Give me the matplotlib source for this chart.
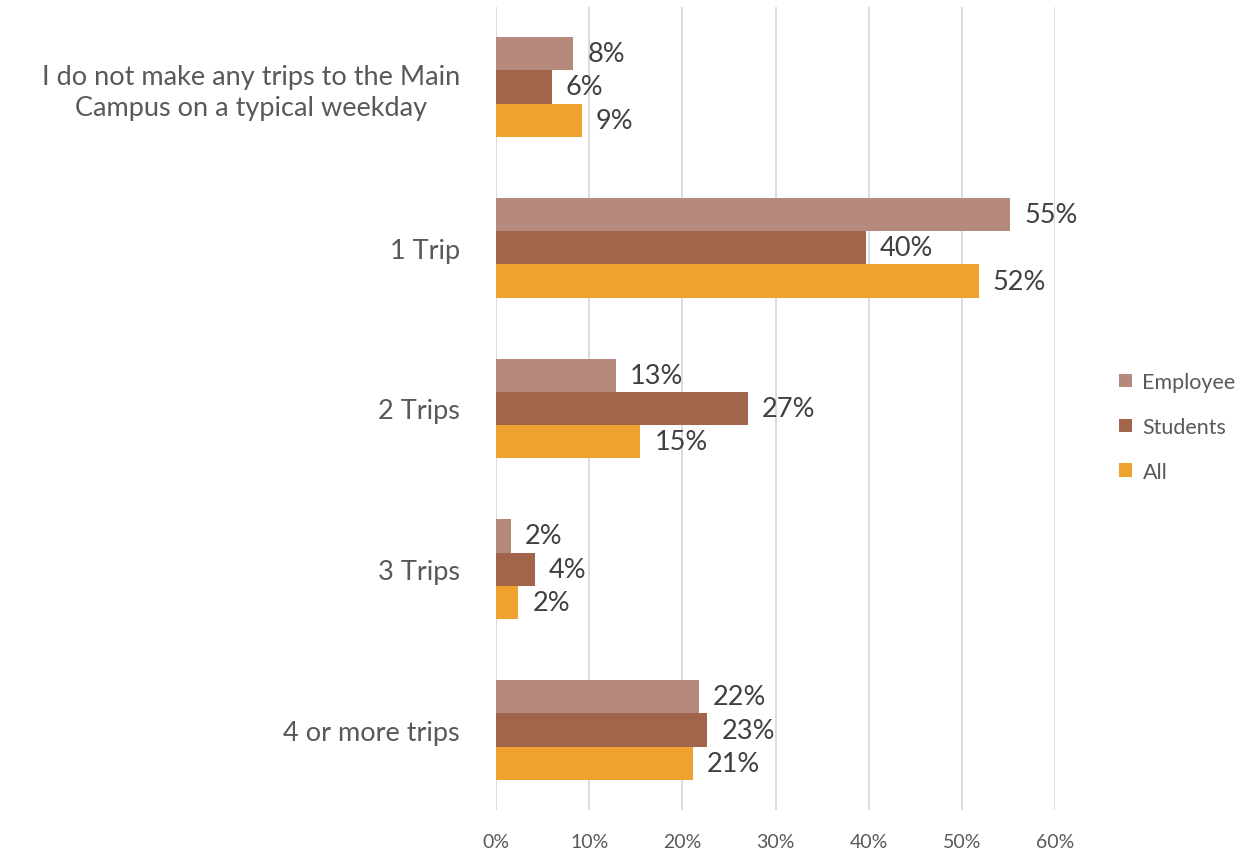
import matplotlib
matplotlib.use("Agg")
import matplotlib.pyplot as plt
import numpy as np

categories = ["I do not make any trips to the Main\nCampus on a typical weekday", "1 Trip", "2 Trips", "3 Trips", "4 or more trips"]
series_names = ["Employee", "Students", "All"]
employee = [8.3, 55.2, 12.9, 1.6, 21.8]
students = [6.0, 39.7, 27.0, 4.2, 22.7]
all_vals = [9.2, 51.8, 15.5, 2.4, 21.1]
labels_employee = ["8%", "55%", "13%", "2%", "22%"]
labels_students = ["6%", "40%", "27%", "4%", "23%"]
labels_all = ["9%", "52%", "15%", "2%", "21%"]
colors = ["#B58A7C", "#A3644C", "#EFA22F"]
xticks = [0, 10, 20, 30, 40, 50, 60]

plt.rcParams['font.family'] = ['Lato', 'DejaVu Sans']
text_color = "#595959"

fig = plt.figure(figsize=(12.55, 8.54), dpi=100)
ax_top, ax_bot = 7.6, 811.4
ax = fig.add_axes([496/1255, (854-ax_bot)/854, (1055-496)/1255, (ax_bot-ax_top)/854])

n = len(categories)
y = np.arange(n)
h = 0.207
data = [employee, students, all_vals]
labs = [labels_employee, labels_students, labels_all]
for i, (vals, lab, c, name) in enumerate(zip(data, labs, colors, series_names)):
    pos = y + (i - 1) * h
    bars = ax.barh(pos, vals, height=h, color=c, label=name, zorder=3)
    for b, t in zip(bars, lab):
        ax.text(b.get_width() + 1.5, b.get_y() + b.get_height()/2, t,
                va='center', ha='left', fontsize=19.5, color="#404040")

ax.set_ylim(n - 0.5, -0.5)
ax.set_xlim(0, 60)
ax.set_xticks(xticks)
ax.set_xticklabels([f"{v}%" for v in xticks], fontsize=14, color=text_color)
ax.set_yticks(y)
ax.set_yticklabels(categories, fontsize=19.5, color=text_color, linespacing=1.3,
                   multialignment='center')
ax.tick_params(axis='y', length=0, pad=26)
ax.tick_params(axis='x', length=0, pad=16)
ax.grid(axis='x', color="#D9D9D9", linewidth=1.3, zorder=0)
for s in ax.spines.values():
    s.set_visible(False)

leg = ax.legend(loc='center left', bbox_to_anchor=(1108/1255, 426/854), bbox_transform=fig.transFigure,
                frameon=False, fontsize=15.5, handlelength=0.6, handleheight=0.6, labelspacing=1.15,
                handletextpad=0.5, borderpad=0)
for t in leg.get_texts():
    t.set_color(text_color)

fig.savefig("out.png", dpi=100)
